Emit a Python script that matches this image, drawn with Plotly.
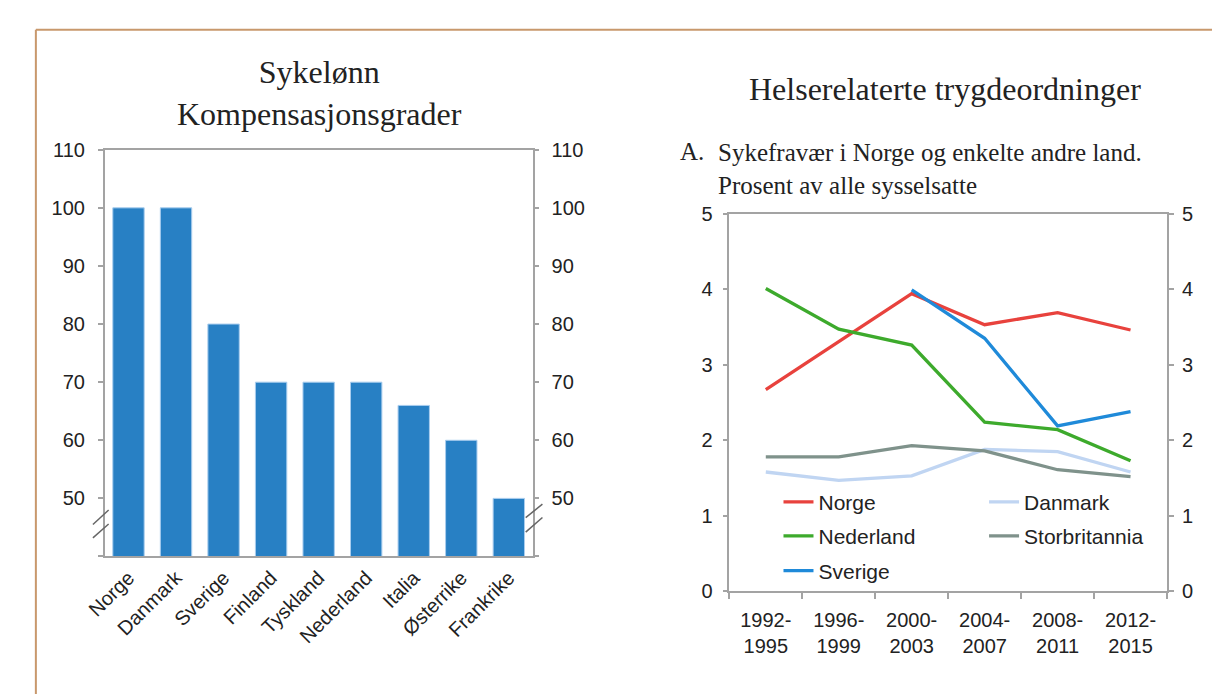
import plotly.graph_objects as go

# ---------------- data ----------------
bar_categories = ["Norge", "Danmark", "Sverige", "Finland", "Tyskland",
                  "Nederland", "Italia", "Østerrike", "Frankrike"]
bar_values = [100, 100, 80, 70, 70, 70, 66, 60, 50]
bar_ticks = [40, 50, 60, 70, 80, 90, 100, 110]
bar_ticktext = ["", "50", "60", "70", "80", "90", "100", "110"]

periods = ["1992-<br>1995", "1996-<br>1999", "2000-<br>2003",
           "2004-<br>2007", "2008-<br>2011", "2012-<br>2015"]
norge = [2.67, 3.31, 3.94, 3.53, 3.69, 3.46]
danmark = [1.58, 1.47, 1.53, 1.88, 1.85, 1.58]
nederland = [4.01, 3.47, 3.26, 2.24, 2.14, 1.73]
storbritannia = [1.78, 1.78, 1.93, 1.86, 1.61, 1.52]
sverige = [None, None, 3.99, 3.35, 2.19, 2.38]
line_ticks = [0, 1, 2, 3, 4, 5]

W, H = 1220, 697
SANS = "Liberation Sans, Arial, Helvetica, sans-serif"
SERIF = "Liberation Serif, Times New Roman, serif"
AXIS = "#a3a3a3"
TXT = "#222222"

def px(x):
    return x / W

def py(y):
    return 1 - y / H

fig = go.Figure()

# bar chart
fig.add_trace(go.Bar(x=bar_categories, y=bar_values, xaxis="x", yaxis="y",
                     marker=dict(color="#2880c4", line=dict(color="#a9cdee", width=1)),
                     showlegend=False, hoverinfo="x+y"))
fig.add_trace(go.Scatter(x=[], y=[], xaxis="x", yaxis="y3", showlegend=False))

# line chart
series = [
    ("Norge", norge, "#e8423d", "legend"),
    ("Danmark", danmark, "#c0d5f2", "legend2"),
    ("Nederland", nederland, "#3daa2c", "legend3"),
    ("Storbritannia", storbritannia, "#7f928b", "legend4"),
    ("Sverige", sverige, "#1f8ad9", "legend5"),
]
for name, vals, col, lg in series:
    fig.add_trace(go.Scatter(x=periods, y=vals, name=name, mode="lines",
                             line=dict(color=col, width=3.3),
                             xaxis="x2", yaxis="y2", legend=lg))
fig.add_trace(go.Scatter(x=[], y=[], xaxis="x2", yaxis="y4", showlegend=False))

tickfont = dict(family=SANS, size=20, color=TXT)

bar_dom_x = [px(78), px(513)]
bar_dom_y = [py(555), py(135)]
line_dom_x = [px(713), px(1158)]
line_dom_y = [py(591), py(201)]

legend_common = dict(bgcolor="rgba(0,0,0,0)", font=dict(family=SANS, size=21, color=TXT),
                     xanchor="left", yanchor="middle", borderwidth=0)

fig.update_layout(
    width=W, height=H, margin=dict(l=0, r=0, t=0, b=0),
    paper_bgcolor="white", plot_bgcolor="white",
    bargap=0.34,
    xaxis=dict(domain=bar_dom_x, anchor="y", type="category",
               showline=True, linecolor=AXIS, linewidth=1.5, mirror=True,
               ticks="", tickangle=-45, tickfont=tickfont, showgrid=False,
               zeroline=False),
    yaxis=dict(domain=bar_dom_y, anchor="x", range=[40, 110],
               tickvals=bar_ticks, ticktext=bar_ticktext,
               showline=True, linecolor=AXIS, linewidth=1.5, mirror="ticks",
               ticks="outside", ticklen=5, tickcolor=AXIS, tickwidth=1.5,
               ticklabelstandoff=9,
               tickfont=tickfont, showgrid=False, zeroline=False),
    yaxis3=dict(overlaying="y", anchor="x", side="right", range=[40, 110],
                tickvals=bar_ticks, ticktext=bar_ticktext,
                showline=False, ticks="outside", ticklen=5, tickcolor=AXIS,
                tickwidth=1.5, ticklabelstandoff=9,
                tickfont=tickfont, showgrid=False, zeroline=False),
    xaxis2=dict(domain=line_dom_x, anchor="y2", type="category", range=[-0.5, 5.5],
                showline=True, linecolor=AXIS, linewidth=1.5, mirror=True,
                ticks="outside", tickson="boundaries", ticklen=6, tickcolor=AXIS,
                tickwidth=1.5, ticklabelstandoff=10,
                tickfont=tickfont, showgrid=False, zeroline=False),
    yaxis2=dict(domain=line_dom_y, anchor="x2", range=[0, 5], tickvals=line_ticks,
                showline=True, linecolor=AXIS, linewidth=1.5, mirror="ticks",
                ticks="outside", ticklen=5, tickcolor=AXIS, tickwidth=1.5,
                ticklabelstandoff=6,
                tickfont=tickfont, showgrid=False, zeroline=False),
    yaxis4=dict(overlaying="y2", anchor="x2", side="right", range=[0, 5],
                tickvals=line_ticks, showline=False, ticks="outside", ticklen=5,
                tickcolor=AXIS, tickwidth=1.5, ticklabelstandoff=5,
                tickfont=tickfont, showgrid=False, zeroline=False),
    legend=dict(x=px(763), y=py(499), **legend_common),
    legend2=dict(x=px(972), y=py(499), **legend_common),
    legend3=dict(x=px(763), y=py(534), **legend_common),
    legend4=dict(x=px(972), y=py(534), **legend_common),
    legend5=dict(x=px(763), y=py(570), **legend_common),
)

# titles
fig.add_annotation(text="Sykelønn<br>Kompensasjonsgrader", xref="paper", yref="paper",
                   x=px(296), y=py(76), xanchor="center", yanchor="middle",
                   showarrow=False, font=dict(family=SERIF, size=32, color=TXT))
fig.add_annotation(text="Helserelaterte trygdeordninger", xref="paper", yref="paper",
                   x=px(932), y=py(72), xanchor="center", yanchor="middle",
                   showarrow=False, font=dict(family=SERIF, size=32, color=TXT))
fig.add_annotation(text="A.", xref="paper", yref="paper",
                   x=px(661), y=py(137), xanchor="left", yanchor="middle",
                   showarrow=False, font=dict(family=SERIF, size=25, color=TXT))
fig.add_annotation(text="Sykefravær i Norge og enkelte andre land.<br>Prosent av alle sysselsatte",
                   xref="paper", yref="paper", x=px(699), y=py(154.5),
                   xanchor="left", yanchor="middle", align="left",
                   showarrow=False, font=dict(family=SERIF, size=25, color=TXT))

# axis break marks
brk = dict(color="#666666", width=1.5)
fig.add_shape(type="line", xref="x domain", yref="y", x0=-12 / 435, x1=4 / 435,
              y0=45.5, y1=48.0, line=brk)
fig.add_shape(type="line", xref="x domain", yref="y", x0=-12 / 435, x1=4 / 435,
              y0=43.2, y1=45.6, line=brk)
fig.add_shape(type="line", xref="x domain", yref="y", x0=1 - 7 / 435, x1=1 + 10 / 435,
              y0=46.7, y1=49.0, line=brk)
fig.add_shape(type="line", xref="x domain", yref="y", x0=1 - 7 / 435, x1=1 + 10 / 435,
              y0=44.2, y1=46.7, line=brk)

# page frame
frame = dict(color="#c8986c", width=2)
fig.add_shape(type="line", xref="paper", yref="paper", x0=px(8), x1=1.0,
              y0=py(11), y1=py(11), line=frame)
fig.add_shape(type="line", xref="paper", yref="paper", x0=px(8), x1=px(8),
              y0=py(11), y1=0, line=frame)

fig.write_html("out.html")
